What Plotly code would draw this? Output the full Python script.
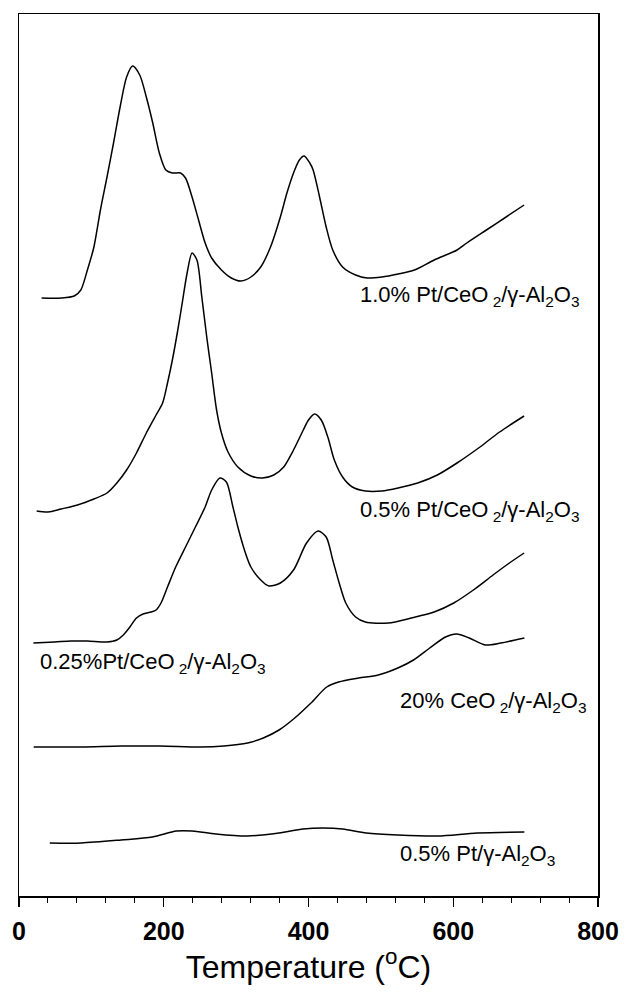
import plotly.graph_objects as go

# ---- data (temperature in °C, signal in a.u. with vertical offsets as in the figure) ----
t_pt10 = [31.2, 58.3, 76.3, 85.4, 94.5, 103.5, 112.5, 121.6, 130.6, 139.7, 148.7, 156.9, 166.8, 175.9,
          184.8, 193.9, 202.9, 211.9, 223.3, 230.1, 239.1, 248.1, 257.2, 266.2, 279.7, 293.3, 306.8,
          320.4, 334.0, 347.5, 361.1, 370.2, 379.3, 387.4, 393.9, 401.8, 406.4, 415.3, 424.4, 433.5,
          447.1, 465.1, 481.0, 501.3, 523.8, 546.4, 573.6, 605.2, 618.7, 645.8, 673.0, 697.9]
s_pt10 = [59.8, 59.8, 60.0, 60.6, 62.6, 64.9, 68.6, 71.9, 75.3, 78.9, 81.9, 83.0, 82.1, 79.9,
          77.3, 74.3, 72.6, 72.3, 72.3, 71.8, 69.9, 67.6, 65.3, 63.8, 62.6, 61.8, 61.5,
          61.9, 62.9, 64.9, 67.9, 70.3, 72.3, 73.6, 74.0, 73.3, 72.6, 69.9, 66.9, 64.6,
          62.9, 62.1, 61.8, 61.9, 62.2, 62.6, 63.6, 64.6, 65.3, 66.6, 67.9, 69.1]

t_pt05 = [24.4, 40.3, 58.3, 80.9, 103.5, 121.6, 135.2, 148.7, 162.3, 175.9, 189.4, 198.4, 205.2,
          211.9, 218.7, 225.5, 232.3, 239.1, 245.8, 252.6, 259.4, 266.2, 273.0, 279.7, 288.8, 302.4,
          320.4, 336.3, 352.1, 365.7, 379.3, 392.8, 400.0, 408.5, 417.6, 426.7, 435.7, 447.1, 460.6,
          478.6, 501.3, 523.8, 550.9, 578.0, 605.2, 636.9, 664.0, 697.9]
s_pt05 = [38.5, 38.4, 38.7, 39.1, 39.7, 40.3, 41.3, 42.6, 44.3, 46.3, 48.1, 49.3, 51.3,
          53.6, 56.3, 59.3, 62.3, 64.3, 63.6, 59.9, 55.9, 52.3, 48.6, 46.3, 44.4, 42.9,
          42.0, 41.8, 42.1, 42.9, 44.6, 46.6, 47.6, 48.2, 47.6, 45.9, 43.6, 41.9, 40.9,
          40.5, 40.5, 40.8, 41.3, 42.1, 43.3, 44.9, 46.4, 48.0]

t_pt025 = [19.9, 49.2, 71.9, 94.5, 121.6, 135.2, 144.1, 153.2, 162.3, 171.3, 182.6, 189.4, 196.2,
           205.2, 216.5, 230.1, 243.7, 257.2, 266.2, 277.6, 286.5, 295.6, 302.4, 311.5, 320.4, 334.0,
           345.4, 361.1, 379.3, 397.3, 413.2, 424.4, 433.5, 442.4, 451.5, 465.1, 478.6, 510.2, 542.0,
           573.6, 600.7, 627.8, 655.0, 677.6, 697.9]
s_pt025 = [25.3, 25.4, 25.5, 25.5, 25.4, 25.6, 26.1, 26.9, 27.8, 28.2, 28.4, 28.6, 29.3,
           30.9, 32.9, 34.9, 36.9, 38.9, 40.6, 41.8, 41.4, 38.9, 36.9, 34.6, 32.9, 31.6,
           31.0, 31.3, 32.6, 35.3, 36.5, 35.9, 33.6, 31.3, 29.3, 27.9, 27.4, 27.3, 27.8,
           28.4, 29.3, 30.6, 32.1, 33.3, 34.3]

t_ce20 = [20.3, 86.2, 141.0, 195.3, 250.3, 283.1, 315.9, 337.6, 359.3, 381.0, 403.4, 425.2, 441.6,
          469.2, 496.3, 523.4, 545.1, 567.5, 589.3, 604.7, 622.1, 644.1, 665.8, 698.3]
s_ce20 = [14.9, 14.9, 15.0, 15.0, 14.9, 15.0, 15.3, 15.8, 16.6, 17.8, 19.3, 20.9, 21.4,
          21.8, 22.1, 22.8, 23.6, 24.8, 25.9, 26.2, 25.8, 25.1, 25.3, 25.8]

t_ptal = [42.6, 86.2, 141.0, 184.4, 217.5, 239.3, 272.1, 315.9, 359.3, 392.5, 419.8, 447.2,
          480.0, 523.4, 578.3, 633.2, 698.3]
s_ptal = [5.3, 5.3, 5.6, 5.9, 6.5, 6.5, 6.2, 6.0, 6.3, 6.7, 6.8, 6.7,
          6.3, 6.1, 6.0, 6.3, 6.4]

series = [
    (t_pt10, s_pt10, "1.0% Pt/CeO<sub> 2</sub>/γ-Al<sub>2</sub>O<sub>3</sub>", 469, 60.0),
    (t_pt05, s_pt05, "0.5% Pt/CeO<sub> 2</sub>/γ-Al<sub>2</sub>O<sub>3</sub>", 469, 38.5),
    (t_pt025, s_pt025, "0.25%Pt/CeO<sub> 2</sub>/γ-Al<sub>2</sub>O<sub>3</sub>", 26.7, 23.3),
    (t_ce20, s_ce20, "20% CeO<sub> 2</sub>/γ-Al<sub>2</sub>O<sub>3</sub>", 523, 19.4),
    (t_ptal, s_ptal, "0.5% Pt/γ-Al<sub>2</sub>O<sub>3</sub>", 523, 4.1),
]

x_ticks = [0, 200, 400, 600, 800]
FONT = "Liberation Sans, Arial"

fig = go.Figure()
for t, s, name, lx, ly in series:
    fig.add_trace(go.Scatter(x=t, y=s, mode="lines", name=name,
                             line=dict(color="black", width=1.5, shape="spline", smoothing=0.8),
                             showlegend=False, hoverinfo="skip"))
    fig.add_annotation(x=lx, y=ly, text=name, showarrow=False, xanchor="left", yanchor="middle",
                       font=dict(family=FONT, size=22, color="black"))

fig.update_layout(
    width=631, height=1003,
    margin=dict(l=17, r=24, t=14, b=107),
    plot_bgcolor="white", paper_bgcolor="white",
    font=dict(family=FONT, color="black"),
)
fig.update_xaxes(
    range=[0, 800], tickvals=x_ticks, ticktext=[f"<b>{v}</b>" for v in x_ticks],
    ticks="outside", ticklen=9, tickwidth=1.2, tickcolor="black",
    minor=dict(dtick=40, ticks="outside", ticklen=5, tickcolor="black", tickwidth=1),
    showline=True, linecolor="black", linewidth=1.5, mirror=True,
    showgrid=False, zeroline=False,
    tickfont=dict(size=25, family=FONT),
    ticklabelstandoff=3,
    title=dict(text="Temperature (<sup>o</sup>C)", font=dict(size=32, family=FONT),
               standoff=9),
)
fig.update_yaxes(
    range=[0, 88.2], showticklabels=False, ticks="",
    showline=True, linecolor="black", linewidth=1.5, mirror=True,
    showgrid=False, zeroline=False,
)

fig.write_html(
    "out.html",
    config={"displayModeBar": False, "staticPlot": True},
    post_script="document.body.style.margin='0';document.body.style.overflow='hidden';",
)
